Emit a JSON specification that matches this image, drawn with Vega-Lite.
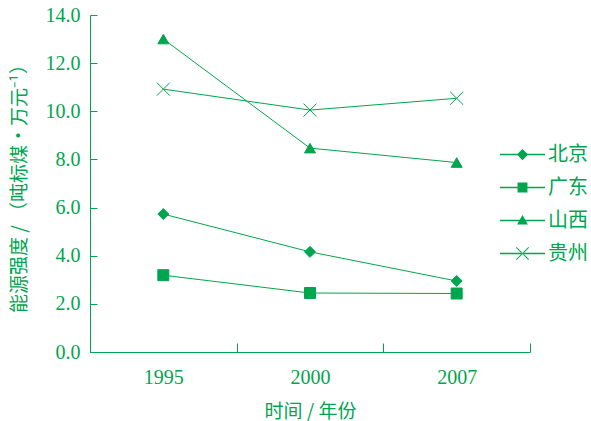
{
  "$schema": "https://vega.github.io/schema/vega-lite/v6.json",
  "autosize": "none",
  "width": 440,
  "height": 337,
  "padding": {"left": 90, "top": 15, "right": 61, "bottom": 69},
  "background": "white",
  "data": {
    "values": [
      {"year": "1995", "series": "北京", "value": 5.73},
      {"year": "2000", "series": "北京", "value": 4.16},
      {"year": "2007", "series": "北京", "value": 2.95},
      {"year": "1995", "series": "广东", "value": 3.19},
      {"year": "2000", "series": "广东", "value": 2.45},
      {"year": "2007", "series": "广东", "value": 2.43},
      {"year": "1995", "series": "山西", "value": 13.0},
      {"year": "2000", "series": "山西", "value": 8.47},
      {"year": "2007", "series": "山西", "value": 7.87},
      {"year": "1995", "series": "贵州", "value": 10.92},
      {"year": "2000", "series": "贵州", "value": 10.05},
      {"year": "2007", "series": "贵州", "value": 10.54}
    ]
  },
  "encoding": {
    "x": {
      "field": "year", "type": "nominal",
      "scale": {"type": "band", "paddingInner": 0, "paddingOuter": 0},
      "axis": {
        "title": "时间 / 年份",
        "titleFont": "Noto Sans CJK SC", "titleFontSize": 19, "titleFontWeight": "normal", "titleColor": "#00a54f",
        "titlePadding": 15,
        "labelAngle": 0, "labelFont": "Liberation Serif", "labelFontSize": 20, "labelColor": "#00a54f",
        "labelPadding": 24,
        "tickBand": "extent", "tickSize": -9, "tickColor": "#00a54f", "domainColor": "#00a54f",
        "grid": false
      }
    },
    "y": {
      "field": "value", "type": "quantitative",
      "scale": {"domain": [0, 14], "nice": false, "zero": true},
      "axis": {
        "title": "能源强度 / （吨标煤·万元⁻¹）",
        "titleFont": "Noto Sans CJK SC", "titleFontSize": 19, "titleFontWeight": "normal", "titleColor": "#00a54f",
        "titlePadding": 16,
        "values": [0, 2, 4, 6, 8, 10, 12, 14], "format": ".1f",
        "labelFont": "Liberation Serif", "labelFontSize": 20, "labelColor": "#00a54f",
        "labelPadding": 17,
        "tickSize": -7, "tickColor": "#00a54f", "domainColor": "#00a54f",
        "grid": false
      }
    }
  },
  "layer": [
    {
      "mark": {"type": "line", "color": "#00a54f", "strokeWidth": 1},
      "encoding": {"detail": {"field": "series"}}
    },
    {
      "mark": {"type": "point", "filled": true, "color": "#00a54f", "size": 121, "opacity": 1, "strokeWidth": 1},
      "encoding": {
        "shape": {
          "field": "series", "type": "nominal",
          "scale": {"domain": ["北京", "广东", "山西", "贵州"], "range": ["diamond", "square", "triangle-up", "M-1.18,-1.18L1.18,1.18M-1.18,1.18L1.18,-1.18"]},
          "legend": null
        },
        "stroke": {"value": "#00a54f"}
      }
    },
    {
      "mark": {"type": "point", "filled": true, "color": "#00a54f", "size": 2025, "opacity": 0},
      "encoding": {
        "shape": {
          "field": "series", "type": "nominal",
          "scale": {"domain": ["北京", "广东", "山西", "贵州"], "range": [
            "M-1,-0.028H1V0.028H-1ZM0,-0.25L0.25,0L0,0.25L-0.25,0Z",
            "M-1,-0.028H1V0.028H-1ZM-0.22,-0.22H0.22V0.22H-0.22Z",
            "M-1,-0.028H1V0.028H-1ZM0,-0.24L0.24,0.18L-0.24,0.18Z",
            "M-1,-0.028H1V0.028H-1ZM-0.29,-0.26L0.26,0.29L0.29,0.26L-0.26,-0.29ZM-0.29,0.26L0.26,-0.29L0.29,-0.26L-0.26,0.29Z"
          ]},
          "legend": {
            "title": null,
            "orient": "none", "legendX": 410, "legendY": 117,
            "symbolSize": 2025, "symbolOpacity": 1,
            "symbolFillColor": "#00a54f", "symbolStrokeColor": "#00a54f", "symbolStrokeWidth": 0,
            "labelFont": "Noto Sans CJK SC", "labelFontSize": 20, "labelColor": "#00a54f",
            "labelOffset": 3, "rowPadding": 0
          }
        }
      }
    }
  ],
  "resolve": {"scale": {"shape": "independent"}},
  "config": {"view": {"stroke": null}}
}
